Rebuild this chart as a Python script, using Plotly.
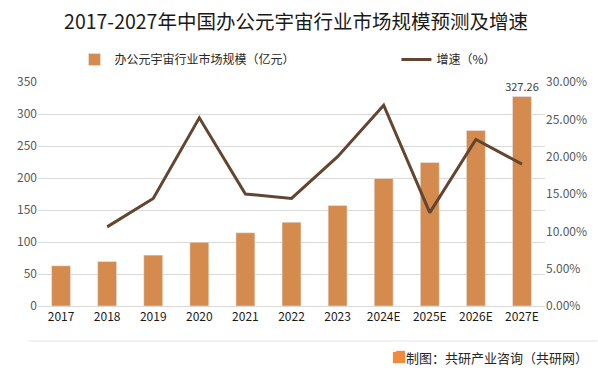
import plotly.graph_objects as go

years = ["2017", "2018", "2019", "2020", "2021", "2022", "2023", "2024E", "2025E", "2026E", "2027E"]
market_size = [62.8, 69.5, 79.5, 99.5, 114.4, 130.9, 157.1, 199.3, 224.2, 274.2, 327.26]
growth = [None, 0.106, 0.144, 0.252, 0.150, 0.144, 0.200, 0.269, 0.125, 0.223, 0.190]
last_label = ["" for _ in years[:-1]] + ["327.26"]

bar_color = "#D48B4D"
line_color = "#634530"
font_family = "Noto Sans CJK SC, Microsoft YaHei, sans-serif"

fig = go.Figure()
fig.add_trace(go.Bar(
    x=years, y=market_size, name="办公元宇宙行业市场规模（亿元）",
    marker=dict(color=bar_color), width=0.41, legend="legend",
    text=last_label, textposition="outside", cliponaxis=False, constraintext="none",
    textfont=dict(size=11, color="#404040"), hoverinfo="skip",
))
fig.add_trace(go.Scatter(
    x=years, y=growth, name="增速（%）", mode="lines", legend="legend2",
    line=dict(color=line_color, width=3), yaxis="y2", hoverinfo="skip",
))

legend_common = dict(orientation="h", xanchor="left", y=1.1, yanchor="middle",
                     font=dict(size=12, color="#262626"), bgcolor="rgba(0,0,0,0)",
                     itemwidth=30)

fig.update_layout(
    width=598, height=372,
    margin=dict(l=38, r=53, t=82, b=66, autoexpand=False),
    paper_bgcolor="white", plot_bgcolor="white",
    font=dict(family=font_family, size=12, color="#595959"),
    title=dict(text="2017-2027年中国办公元宇宙行业市场规模预测及增速",
               x=0.495, xanchor="center", y=0.94, yanchor="middle",
               font=dict(size=19.5, color="#1a1a1a")),
    showlegend=True,
    legend=dict(x=0.072, **legend_common),
    legend2=dict(x=0.707, **legend_common),
    bargap=0.59,
    xaxis=dict(type="category", showgrid=False, showline=True, linecolor="#d9d9d9",
               linewidth=1, ticks="", tickfont=dict(size=12, color="#1a1a1a")),
    yaxis=dict(range=[0, 350], dtick=50, showgrid=True, gridcolor="#d9d9d9",
               gridwidth=1, zeroline=False, ticks="", tickfont=dict(size=12, color="#595959")),
    yaxis2=dict(range=[0, 0.30], dtick=0.05, tickformat=".2%", overlaying="y",
                side="right", showgrid=False, zeroline=False, ticks="",
                tickfont=dict(size=12, color="#595959")),
)

fig.add_shape(type="line", xref="paper", yref="paper", x0=-0.02, x1=1.104,
              y0=-0.156, y1=-0.156, line=dict(color="#e6e6e6", width=1))
fig.add_shape(type="rect", xref="paper", yref="paper", x0=0.700, x1=0.724,
              y0=-0.255, y1=-0.200, fillcolor="#F08A3C", line=dict(width=0))
fig.add_annotation(xref="paper", yref="paper", x=0.712, y=-0.228, text="<b>G</b>",
                   showarrow=False, font=dict(size=10, color="white"))
fig.add_annotation(xref="paper", yref="paper", x=1.089, xanchor="right", y=-0.228,
                   yanchor="middle", text="制图：共研产业咨询（共研网）", showarrow=False,
                   font=dict(size=13, color="#262626"))

fig.write_html("out.html", config={"displayModeBar": False},
               post_script="document.body.style.margin='0';")
